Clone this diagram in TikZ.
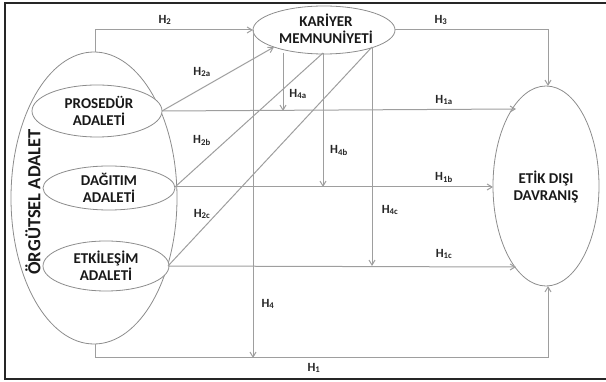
\documentclass[tikz,border=0pt]{standalone}
\usepackage{fontspec}
\setmainfont{Carlito}
\usetikzlibrary{arrows.meta}
\begin{document}
\begin{tikzpicture}[x=1pt,y=-1pt,
  ell/.style={draw=black!45, line width=0.8pt},
  conn/.style={draw=black!38, line width=1pt},
  arr/.style={conn, -{Straight Barb[length=5pt,width=6pt]}},
  nodetext/.style={font=\bfseries\fontsize{15}{17}\selectfont, align=center, text=black!90},
  hlab/.style={font=\bfseries\fontsize{12.5}{14}\selectfont, text=black!85, inner sep=0pt}]
\useasboundingbox (0,0) rectangle (606,382);
\draw[line width=1.6pt, black!85] (606,3) -- (5,3) -- (5,379) -- (606,379);
% ellipses
\draw[ell] (94,198) ellipse [x radius=83, y radius=146];
\node[nodetext, rotate=90] (org) at (33,202) {\fontsize{18.5}{20}\selectfont ÖRGÜTSEL ADALET};
\draw[ell, fill=white] (97,111) ellipse [x radius=65, y radius=26];
\node[nodetext] (pro) at (99,111) {PROSEDÜR\\ADALETİ};
\draw[ell, fill=white] (109,188) ellipse [x radius=66, y radius=22];
\node[nodetext] (dag) at (109,188) {DAĞITIM\\ADALETİ};
\draw[ell, fill=white] (106,266) ellipse [x radius=63, y radius=25];
\node[nodetext] (etk) at (106,266) {ETKİLEŞİM\\ADALETİ};
\draw[ell] (324,30) ellipse [x radius=71, y radius=24];
\node[nodetext] (kar) at (326,29) {KARİYER\\MEMNUNİYETİ};
\draw[ell] (546,186) ellipse [x radius=53, y radius=100];
\node[nodetext] (etik) at (546,187) {ETİK DIŞI\\DAVRANIŞ};
% anchor coordinates
\coordinate (orgT) at (95,52);
\coordinate (orgB) at (95,344);
\coordinate (proR) at (162,111);
\coordinate (dagR) at (175,187);
\coordinate (etkR) at (168,266);
\coordinate (karL) at (253,30);
\coordinate (karR) at (395,30);
\coordinate (karA) at (274,47);
\coordinate (karX) at (283,53);
\coordinate (karB) at (323,53);
\coordinate (karC) at (372,47);
\coordinate (etikT) at (548,86);
\coordinate (etikB) at (548,286);
\coordinate (etikA) at (516,109);
\coordinate (etikL) at (493,187);
\coordinate (etikC) at (516,267);
% connectors
\draw[arr] (orgT) |- (karL);
\draw[arr] (karR) -| (etikT);
\draw[arr] (orgB) |- (548,358) -- (etikB);
\draw[arr] (karL) -- (253,358);
\draw[arr] (proR) -- (karA);
\draw[conn] (dagR) -- (karB);
\draw[conn] (etkR) -- (karC);
\draw[arr] (proR) -- (etikA);
\draw[arr] (dagR) -- (etikL);
\draw[arr] (etkR) -- (etikC);
\draw[arr] (karX) -- (283,111);
\draw[arr] (karB) -- (323,187);
\draw[arr] (karC) -- (372,266);
% labels
\node[hlab] (h2) at (165,20) {H\textsubscript{2}};
\node[hlab] (h3) at (441,20) {H\textsubscript{3}};
\node[hlab] (h2a) at (202,72) {H\textsubscript{2a}};
\node[hlab] (h2b) at (202,140) {H\textsubscript{2b}};
\node[hlab] (h2c) at (202,214) {H\textsubscript{2c}};
\node[hlab] (h4a) at (298,94) {H\textsubscript{4a}};
\node[hlab] (h4b) at (339,150) {H\textsubscript{4b}};
\node[hlab] (h4c) at (390,210) {H\textsubscript{4c}};
\node[hlab] (h1a) at (444,100) {H\textsubscript{1a}};
\node[hlab] (h1b) at (444,177) {H\textsubscript{1b}};
\node[hlab] (h1c) at (444,254) {H\textsubscript{1c}};
\node[hlab] (h4) at (268,304) {H\textsubscript{4}};
\node[hlab] (h1) at (314,368) {H\textsubscript{1}};
\end{tikzpicture}
\end{document}
